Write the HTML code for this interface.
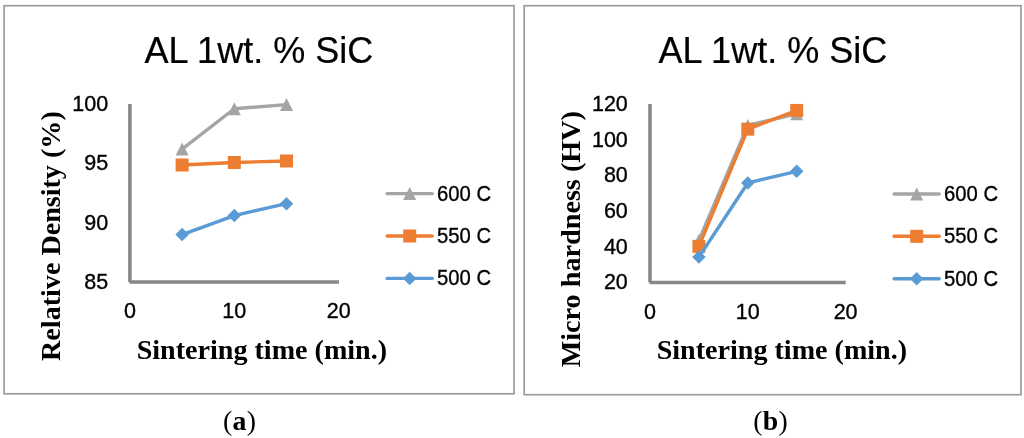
<!DOCTYPE html>
<html><head><meta charset="utf-8"><style>html,body{margin:0;padding:0;background:#fff;width:1024px;height:438px;overflow:hidden}svg{display:block;will-change:transform}</style></head>
<body><svg width="1024" height="438" viewBox="0 0 1024 438">
<rect width="1024" height="438" fill="#fff"/>
<rect x="4.1" y="5.7" width="509.9" height="388.1" fill="none" stroke="#9c9c9c" stroke-width="1.7"/>
<rect x="524.2" y="5.7" width="496.8" height="389" fill="none" stroke="#9c9c9c" stroke-width="1.7"/>
<line x1="129.9" y1="104" x2="129.9" y2="282" stroke="#878787" stroke-width="3.6"/>
<line x1="129.4" y1="282" x2="339" y2="282" stroke="#878787" stroke-width="3.6"/>
<text x="108.20" y="111.10" text-anchor="end" font-size="21.5" font-family='"Liberation Sans", sans-serif' stroke="#000" stroke-width="0.35">100</text>
<text x="108.20" y="170.44" text-anchor="end" font-size="21.5" font-family='"Liberation Sans", sans-serif' stroke="#000" stroke-width="0.35">95</text>
<text x="108.20" y="229.77" text-anchor="end" font-size="21.5" font-family='"Liberation Sans", sans-serif' stroke="#000" stroke-width="0.35">90</text>
<text x="108.20" y="289.11" text-anchor="end" font-size="21.5" font-family='"Liberation Sans", sans-serif' stroke="#000" stroke-width="0.35">85</text>
<text x="129.90" y="318.30" text-anchor="middle" font-size="21.5" font-family='"Liberation Sans", sans-serif' stroke="#000" stroke-width="0.35">0</text>
<text x="234.30" y="318.30" text-anchor="middle" font-size="21.5" font-family='"Liberation Sans", sans-serif' stroke="#000" stroke-width="0.35">10</text>
<text x="338.70" y="318.30" text-anchor="middle" font-size="21.5" font-family='"Liberation Sans", sans-serif' stroke="#000" stroke-width="0.35">20</text>
<polyline points="182.10,149.09 234.30,108.75 286.50,104.59" fill="none" stroke="#a5a5a5" stroke-width="3.4" stroke-linejoin="round" stroke-linecap="round"/>
<path d="M182.10 142.59L188.60 155.59L175.60 155.59Z" fill="#a5a5a5"/>
<path d="M234.30 102.25L240.80 115.25L227.80 115.25Z" fill="#a5a5a5"/>
<path d="M286.50 98.09L293.00 111.09L280.00 111.09Z" fill="#a5a5a5"/>
<polyline points="182.10,165.00 234.30,162.50 286.50,160.96" fill="none" stroke="#ed7d31" stroke-width="3.4" stroke-linejoin="round" stroke-linecap="round"/>
<rect x="175.60" y="158.50" width="13" height="13" fill="#ed7d31"/>
<rect x="227.80" y="156.00" width="13" height="13" fill="#ed7d31"/>
<rect x="280.00" y="154.46" width="13" height="13" fill="#ed7d31"/>
<polyline points="182.10,234.54 234.30,215.55 286.50,203.68" fill="none" stroke="#5b9bd5" stroke-width="3.4" stroke-linejoin="round" stroke-linecap="round"/>
<path d="M182.10 227.79L188.85 234.54L182.10 241.29L175.35 234.54Z" fill="#5b9bd5"/>
<path d="M234.30 208.80L241.05 215.55L234.30 222.30L227.55 215.55Z" fill="#5b9bd5"/>
<path d="M286.50 196.93L293.25 203.68L286.50 210.43L279.75 203.68Z" fill="#5b9bd5"/>
<line x1="387.1" y1="193.6" x2="432.2" y2="193.6" stroke="#a5a5a5" stroke-width="3.4" stroke-linecap="round"/>
<path d="M409.70 187.10L416.20 200.10L403.20 200.10Z" fill="#a5a5a5"/>
<text x="437.10" y="200.60" text-anchor="start" font-size="21.5" font-family='"Liberation Sans", sans-serif' stroke="#000" stroke-width="0.35" textLength="54" lengthAdjust="spacingAndGlyphs">600 C</text>
<line x1="387.1" y1="236" x2="432.2" y2="236" stroke="#ed7d31" stroke-width="3.4" stroke-linecap="round"/>
<rect x="403.20" y="229.50" width="13" height="13" fill="#ed7d31"/>
<text x="437.10" y="243.00" text-anchor="start" font-size="21.5" font-family='"Liberation Sans", sans-serif' stroke="#000" stroke-width="0.35" textLength="54" lengthAdjust="spacingAndGlyphs">550 C</text>
<line x1="387.1" y1="278.4" x2="432.2" y2="278.4" stroke="#5b9bd5" stroke-width="3.4" stroke-linecap="round"/>
<path d="M409.70 271.65L416.45 278.40L409.70 285.15L402.95 278.40Z" fill="#5b9bd5"/>
<text x="437.10" y="285.40" text-anchor="start" font-size="21.5" font-family='"Liberation Sans", sans-serif' stroke="#000" stroke-width="0.35" textLength="54" lengthAdjust="spacingAndGlyphs">500 C</text>
<text x="258.80" y="63.00" text-anchor="middle" font-size="36" font-family='"Liberation Sans", sans-serif' stroke="#000" stroke-width="0.2">AL 1wt. % SiC</text>
<text x="261.90" y="358.60" text-anchor="middle" font-size="28.1" font-family='"Liberation Serif", serif' font-weight="bold">Sintering time (min.)</text>
<text transform="translate(60.4,236.1) rotate(-90)" text-anchor="middle" font-size="28.1" font-weight="bold" font-family='"Liberation Serif", serif'>Relative Density (%)</text>
<line x1="650" y1="104" x2="650" y2="282.5" stroke="#878787" stroke-width="3.6"/>
<line x1="649.5" y1="282.5" x2="845.7" y2="282.5" stroke="#878787" stroke-width="3.6"/>
<text x="627.80" y="111.10" text-anchor="end" font-size="21.5" font-family='"Liberation Sans", sans-serif' stroke="#000" stroke-width="0.35">120</text>
<text x="627.80" y="146.74" text-anchor="end" font-size="21.5" font-family='"Liberation Sans", sans-serif' stroke="#000" stroke-width="0.35">100</text>
<text x="627.80" y="182.38" text-anchor="end" font-size="21.5" font-family='"Liberation Sans", sans-serif' stroke="#000" stroke-width="0.35">80</text>
<text x="627.80" y="218.02" text-anchor="end" font-size="21.5" font-family='"Liberation Sans", sans-serif' stroke="#000" stroke-width="0.35">60</text>
<text x="627.80" y="253.66" text-anchor="end" font-size="21.5" font-family='"Liberation Sans", sans-serif' stroke="#000" stroke-width="0.35">40</text>
<text x="627.80" y="289.30" text-anchor="end" font-size="21.5" font-family='"Liberation Sans", sans-serif' stroke="#000" stroke-width="0.35">20</text>
<text x="650.00" y="319.30" text-anchor="middle" font-size="21.5" font-family='"Liberation Sans", sans-serif' stroke="#000" stroke-width="0.35">0</text>
<text x="747.80" y="319.30" text-anchor="middle" font-size="21.5" font-family='"Liberation Sans", sans-serif' stroke="#000" stroke-width="0.35">10</text>
<text x="845.60" y="319.30" text-anchor="middle" font-size="21.5" font-family='"Liberation Sans", sans-serif' stroke="#000" stroke-width="0.35">20</text>
<polyline points="698.90,240.32 747.80,125.38 796.70,113.80" fill="none" stroke="#a5a5a5" stroke-width="3.4" stroke-linejoin="round" stroke-linecap="round"/>
<path d="M698.90 233.82L705.40 246.82L692.40 246.82Z" fill="#a5a5a5"/>
<path d="M747.80 118.88L754.30 131.88L741.30 131.88Z" fill="#a5a5a5"/>
<path d="M796.70 107.30L803.20 120.30L790.20 120.30Z" fill="#a5a5a5"/>
<polyline points="698.90,246.38 747.80,129.13 796.70,110.42" fill="none" stroke="#ed7d31" stroke-width="3.4" stroke-linejoin="round" stroke-linecap="round"/>
<rect x="692.40" y="239.88" width="13" height="13" fill="#ed7d31"/>
<rect x="741.30" y="122.63" width="13" height="13" fill="#ed7d31"/>
<rect x="790.20" y="103.92" width="13" height="13" fill="#ed7d31"/>
<polyline points="698.90,257.07 747.80,182.94 796.70,171.36" fill="none" stroke="#5b9bd5" stroke-width="3.4" stroke-linejoin="round" stroke-linecap="round"/>
<path d="M698.90 250.32L705.65 257.07L698.90 263.82L692.15 257.07Z" fill="#5b9bd5"/>
<path d="M747.80 176.19L754.55 182.94L747.80 189.69L741.05 182.94Z" fill="#5b9bd5"/>
<path d="M796.70 164.61L803.45 171.36L796.70 178.11L789.95 171.36Z" fill="#5b9bd5"/>
<line x1="894.1" y1="194" x2="939.2" y2="194" stroke="#a5a5a5" stroke-width="3.4" stroke-linecap="round"/>
<path d="M916.70 187.50L923.20 200.50L910.20 200.50Z" fill="#a5a5a5"/>
<text x="944.10" y="201.00" text-anchor="start" font-size="21.5" font-family='"Liberation Sans", sans-serif' stroke="#000" stroke-width="0.35" textLength="54" lengthAdjust="spacingAndGlyphs">600 C</text>
<line x1="894.1" y1="236.3" x2="939.2" y2="236.3" stroke="#ed7d31" stroke-width="3.4" stroke-linecap="round"/>
<rect x="910.20" y="229.80" width="13" height="13" fill="#ed7d31"/>
<text x="944.10" y="243.30" text-anchor="start" font-size="21.5" font-family='"Liberation Sans", sans-serif' stroke="#000" stroke-width="0.35" textLength="54" lengthAdjust="spacingAndGlyphs">550 C</text>
<line x1="894.1" y1="278.7" x2="939.2" y2="278.7" stroke="#5b9bd5" stroke-width="3.4" stroke-linecap="round"/>
<path d="M916.70 271.95L923.45 278.70L916.70 285.45L909.95 278.70Z" fill="#5b9bd5"/>
<text x="944.10" y="285.70" text-anchor="start" font-size="21.5" font-family='"Liberation Sans", sans-serif' stroke="#000" stroke-width="0.35" textLength="54" lengthAdjust="spacingAndGlyphs">500 C</text>
<text x="772.80" y="63.00" text-anchor="middle" font-size="36" font-family='"Liberation Sans", sans-serif' stroke="#000" stroke-width="0.2">AL 1wt. % SiC</text>
<text x="781.90" y="359.30" text-anchor="middle" font-size="28.1" font-family='"Liberation Serif", serif' font-weight="bold">Sintering time (min.)</text>
<text transform="translate(580,239.2) rotate(-90)" text-anchor="middle" font-size="28.2" font-weight="bold" font-family='"Liberation Serif", serif'>Micro hardness (HV)</text>
<text x="239.7" y="429.7" text-anchor="middle" font-size="27.8" letter-spacing="0.3" font-family='"Liberation Serif", serif'>(<tspan font-weight="bold">a</tspan>)</text>
<text x="770.7" y="429.7" text-anchor="middle" font-size="27.8" letter-spacing="0.3" font-family='"Liberation Serif", serif'>(<tspan font-weight="bold">b</tspan>)</text>
</svg></body></html>
